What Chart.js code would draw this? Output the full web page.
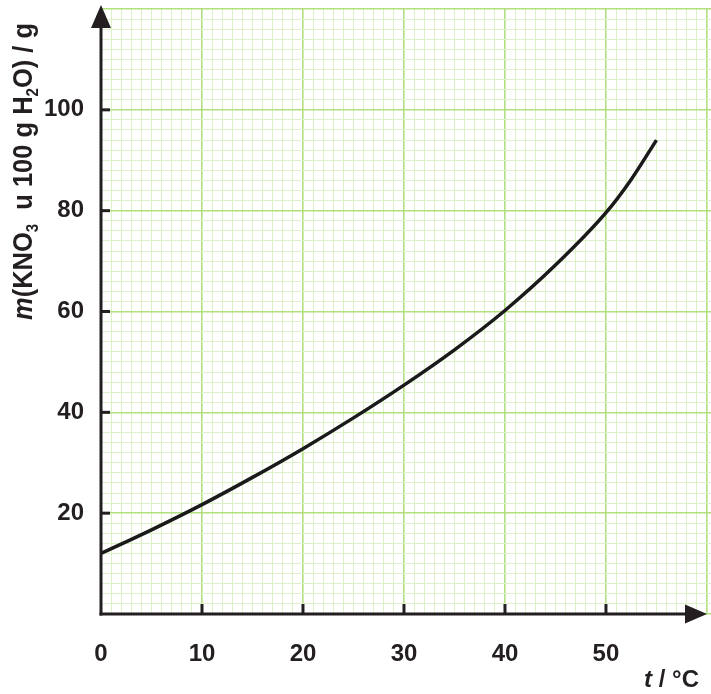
<!DOCTYPE html>
<html>
<head>
<meta charset="utf-8">
<script src="https://cdn.jsdelivr.net/npm/chart.js@4.4.0/dist/chart.umd.min.js"></script>
<style>
  html, body { margin: 0; padding: 0; background: #ffffff; }
  #wrap { width: 711px; height: 694px; }
</style>
</head>
<body>
<div id="wrap"><canvas id="c" width="711" height="694"></canvas></div>
<script>
// ---- data ----
const temperatures = [0, 5, 10, 15, 20, 25, 30, 35, 40, 45, 50, 52.5, 55];
const massKNO3 = [12.0, 16.7, 21.7, 27.1, 32.8, 38.9, 45.4, 52.4, 60.2, 69.2, 79.6, 86.2, 94.0];
const xTickLabels = [0, 10, 20, 30, 40, 50];
const yTickLabels = [20, 40, 60, 80, 100];

const TEXT = '#231f20';
const MINOR = '#ddf1c8';
const MAJOR = '#b2e07e';
const FONT = '"Liberation Sans", Arial, sans-serif';

const points = temperatures.map((t, i) => ({ x: t, y: massKNO3[i] }));

function noPad(s) {
  s.paddingTop = 0; s.paddingBottom = 0; s.paddingLeft = 0; s.paddingRight = 0;
}

const decor = {
  id: 'decor',
  afterDraw(chart) {
    const ctx = chart.ctx;
    const xs = chart.scales.x, ys = chart.scales.y;
    const x0 = xs.getPixelForValue(0);
    const y0 = ys.getPixelForValue(0);
    ctx.save();
    ctx.strokeStyle = TEXT;
    ctx.fillStyle = TEXT;
    ctx.lineWidth = 3;
    ctx.lineCap = 'butt';
    // y axis
    ctx.beginPath();
    ctx.moveTo(x0, y0 + 1.5);
    ctx.lineTo(x0, 26);
    ctx.stroke();
    ctx.beginPath();
    ctx.moveTo(x0, 5);
    ctx.lineTo(x0 - 10, 28);
    ctx.lineTo(x0 + 10, 28);
    ctx.closePath();
    ctx.fill();
    // x axis
    ctx.beginPath();
    ctx.moveTo(x0 - 1.5, y0);
    ctx.lineTo(688, y0);
    ctx.stroke();
    ctx.beginPath();
    ctx.moveTo(707, y0);
    ctx.lineTo(685, y0 - 9.5);
    ctx.lineTo(685, y0 + 9.5);
    ctx.closePath();
    ctx.fill();
    // tick marks
    ctx.lineWidth = 3;
    xTickLabels.forEach(v => {
      if (v === 0) return;
      const px = xs.getPixelForValue(v);
      ctx.beginPath();
      ctx.moveTo(px, y0);
      ctx.lineTo(px, y0 - 10);
      ctx.stroke();
    });
    yTickLabels.forEach(v => {
      const py = ys.getPixelForValue(v);
      ctx.beginPath();
      ctx.moveTo(x0, py);
      ctx.lineTo(x0 + 9, py);
      ctx.stroke();
    });

    // y axis title
    const big = 'bold 27px ' + FONT;
    const bigI = 'italic bold 27px ' + FONT;
    const sub = 'bold 16px ' + FONT;
    const segs = [
      { t: 'm', f: bigI, dy: 0 },
      { t: '(KNO', f: big, dy: 0 },
      { t: '3', f: sub, dy: 6 },
      { t: '  u 100 g H', f: big, dy: 0 },
      { t: '2', f: sub, dy: 6 },
      { t: 'O) / g', f: big, dy: 0 }
    ];
    let total = 0;
    segs.forEach(s => { ctx.font = s.f; s.w = ctx.measureText(s.t).width; total += s.w; });
    const targetLen = 297;
    ctx.translate(32, 171.5);
    ctx.rotate(-Math.PI / 2);
    ctx.scale(targetLen / total, 1);
    ctx.textBaseline = 'alphabetic';
    ctx.textAlign = 'left';
    let cx = -total / 2;
    segs.forEach(s => {
      ctx.font = s.f;
      ctx.fillText(s.t, cx, s.dy);
      cx += s.w;
    });
    ctx.restore();

    // x axis title
    ctx.save();
    ctx.fillStyle = TEXT;
    ctx.textBaseline = 'alphabetic';
    ctx.textAlign = 'left';
    ctx.font = 'italic bold 24px ' + FONT;
    const tw = ctx.measureText('t').width;
    ctx.font = 'bold 24px ' + FONT;
    const rw = ctx.measureText(' / °C').width;
    const sx = 699 - tw - rw;
    ctx.font = 'italic bold 24px ' + FONT;
    ctx.fillText('t', sx, 687);
    ctx.font = 'bold 24px ' + FONT;
    ctx.fillText(' / °C', sx + tw, 687);
    ctx.restore();
  }
};

new Chart(document.getElementById('c'), {
  type: 'line',
  data: {
    datasets: [{
      data: points,
      borderColor: '#1a1a1a',
      borderWidth: 3.5,
      pointRadius: 0,
      fill: false,
      cubicInterpolationMode: 'monotone'
    }]
  },
  options: {
    responsive: false,
    animation: false,
    devicePixelRatio: 1,
    layout: { padding: { top: 9, right: 0, left: 0, bottom: 0 } },
    plugins: { legend: { display: false }, tooltip: { enabled: false } },
    scales: {
      x: {
        type: 'linear',
        min: 0,
        max: 60.4,
        afterFit(s) { s.height = 80; noPad(s); },
        border: { display: false },
        grid: {
          drawTicks: false,
          color: c => (c.tick && c.tick.value % 10 === 0) ? MAJOR : MINOR,
          lineWidth: c => (c.tick && c.tick.value % 10 === 0) ? 1.6 : 1
        },
        ticks: {
          stepSize: 1,
          autoSkip: false,
          includeBounds: false,
          maxRotation: 0,
          padding: 26,
          color: TEXT,
          font: { family: FONT, size: 24, weight: 'bold' },
          callback: v => xTickLabels.includes(v) ? String(v) : ''
        }
      },
      y: {
        type: 'linear',
        min: 0,
        max: 120,
        afterFit(s) { s.width = 101; noPad(s); },
        border: { display: false },
        grid: {
          drawTicks: false,
          color: c => (c.tick && c.tick.value % 20 === 0) ? MAJOR : MINOR,
          lineWidth: c => (c.tick && c.tick.value % 20 === 0) ? 1.6 : 1
        },
        ticks: {
          stepSize: 2,
          autoSkip: false,
          includeBounds: false,
          padding: 17,
          color: TEXT,
          font: { family: FONT, size: 24, weight: 'bold' },
          callback: v => yTickLabels.includes(v) ? String(v) : ''
        }
      }
    }
  },
  plugins: [decor]
});
</script>
</body>
</html>
